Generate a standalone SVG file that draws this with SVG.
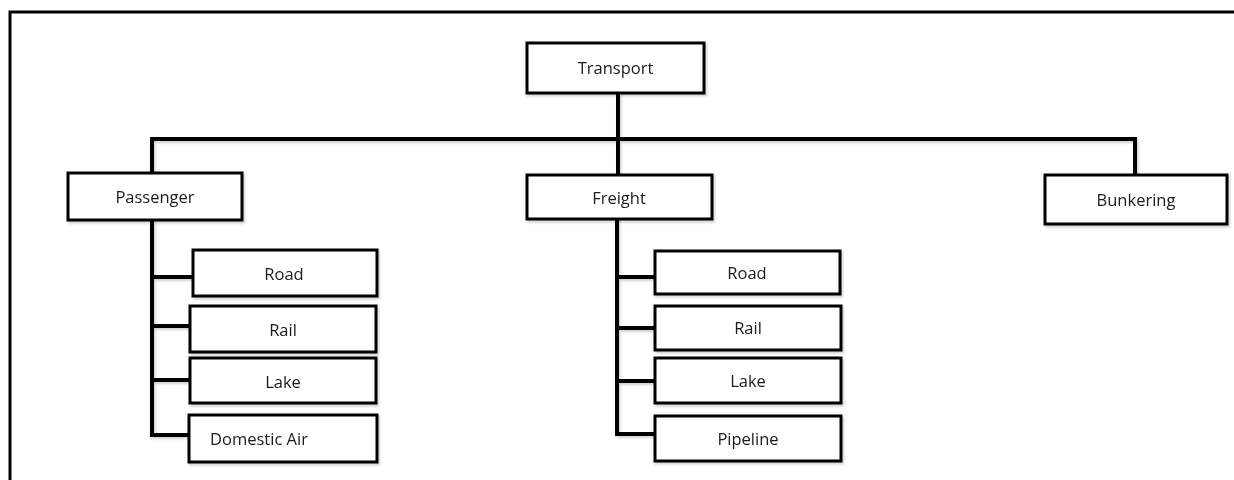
<svg xmlns="http://www.w3.org/2000/svg" width="1234" height="480" viewBox="0 0 1234 480">
<defs>
<filter id="sh" x="-5%" y="-5%" width="110%" height="120%">
<feDropShadow dx="1.5" dy="2" stdDeviation="1.2" flood-color="#000" flood-opacity="0.18"/>
</filter>
<style>
.box{fill:#fff;stroke:#000;stroke-width:3}
.lbl{font-family:"Open Sans","Liberation Sans",sans-serif;font-size:16.5px;fill:#1a1a1a;text-anchor:middle}
.con{fill:none;stroke:#000;stroke-width:4;stroke-linecap:square;stroke-linejoin:miter}
</style>
</defs>
<rect width="1234" height="480" fill="#fff"/>
<polyline points="10,480 10,12 1234,12" fill="none" stroke="#000" stroke-width="3"/>
<g id="connectors" filter="url(#sh)">
<path class="con" d="M618,93 V175 M152,139 H1135 M152,139 V173 M1135,139 V175"/>
<path class="con" d="M152,220 V435 M152,277 H193 M152,326 H190 M152,380 H190 M152,435 H189"/>
<path class="con" d="M617,219 V434 M617,277 H655 M617,328 H655 M617,381 H655 M617,434 H655"/>
</g>
<g id="transport" filter="url(#sh)"><rect class="box" x="527" y="43" width="177" height="50"/><text class="lbl" x="615.5" y="73.5">Transport</text></g>
<g id="passenger" filter="url(#sh)"><rect class="box" x="68" y="173" width="174" height="47"/><text class="lbl" x="155" y="202.5">Passenger</text></g>
<g id="freight" filter="url(#sh)"><rect class="box" x="527" y="175" width="185" height="44"/><text class="lbl" x="619" y="203.5">Freight</text></g>
<g id="bunkering" filter="url(#sh)"><rect class="box" x="1045" y="175" width="182" height="49"/><text class="lbl" x="1136" y="205.5">Bunkering</text></g>
<g id="p-road" filter="url(#sh)"><rect class="box" x="193" y="250" width="184" height="46"/><text class="lbl" x="284" y="279.5">Road</text></g>
<g id="p-rail" filter="url(#sh)"><rect class="box" x="190" y="306" width="186" height="46"/><text class="lbl" x="283" y="335.5">Rail</text></g>
<g id="p-lake" filter="url(#sh)"><rect class="box" x="190" y="358" width="186" height="45"/><text class="lbl" x="283" y="387.5">Lake</text></g>
<g id="p-air" filter="url(#sh)"><rect class="box" x="189" y="415" width="188" height="47"/><text class="lbl" x="259" y="444.5">Domestic Air</text></g>
<g id="f-road" filter="url(#sh)"><rect class="box" x="655" y="251" width="185" height="43"/><text class="lbl" x="747" y="278.5">Road</text></g>
<g id="f-rail" filter="url(#sh)"><rect class="box" x="655" y="306" width="186" height="44"/><text class="lbl" x="748" y="333.5">Rail</text></g>
<g id="f-lake" filter="url(#sh)"><rect class="box" x="655" y="358" width="186" height="45"/><text class="lbl" x="748" y="386.5">Lake</text></g>
<g id="f-pipeline" filter="url(#sh)"><rect class="box" x="655" y="416" width="186" height="45"/><text class="lbl" x="748" y="444.5">Pipeline</text></g>
</svg>
